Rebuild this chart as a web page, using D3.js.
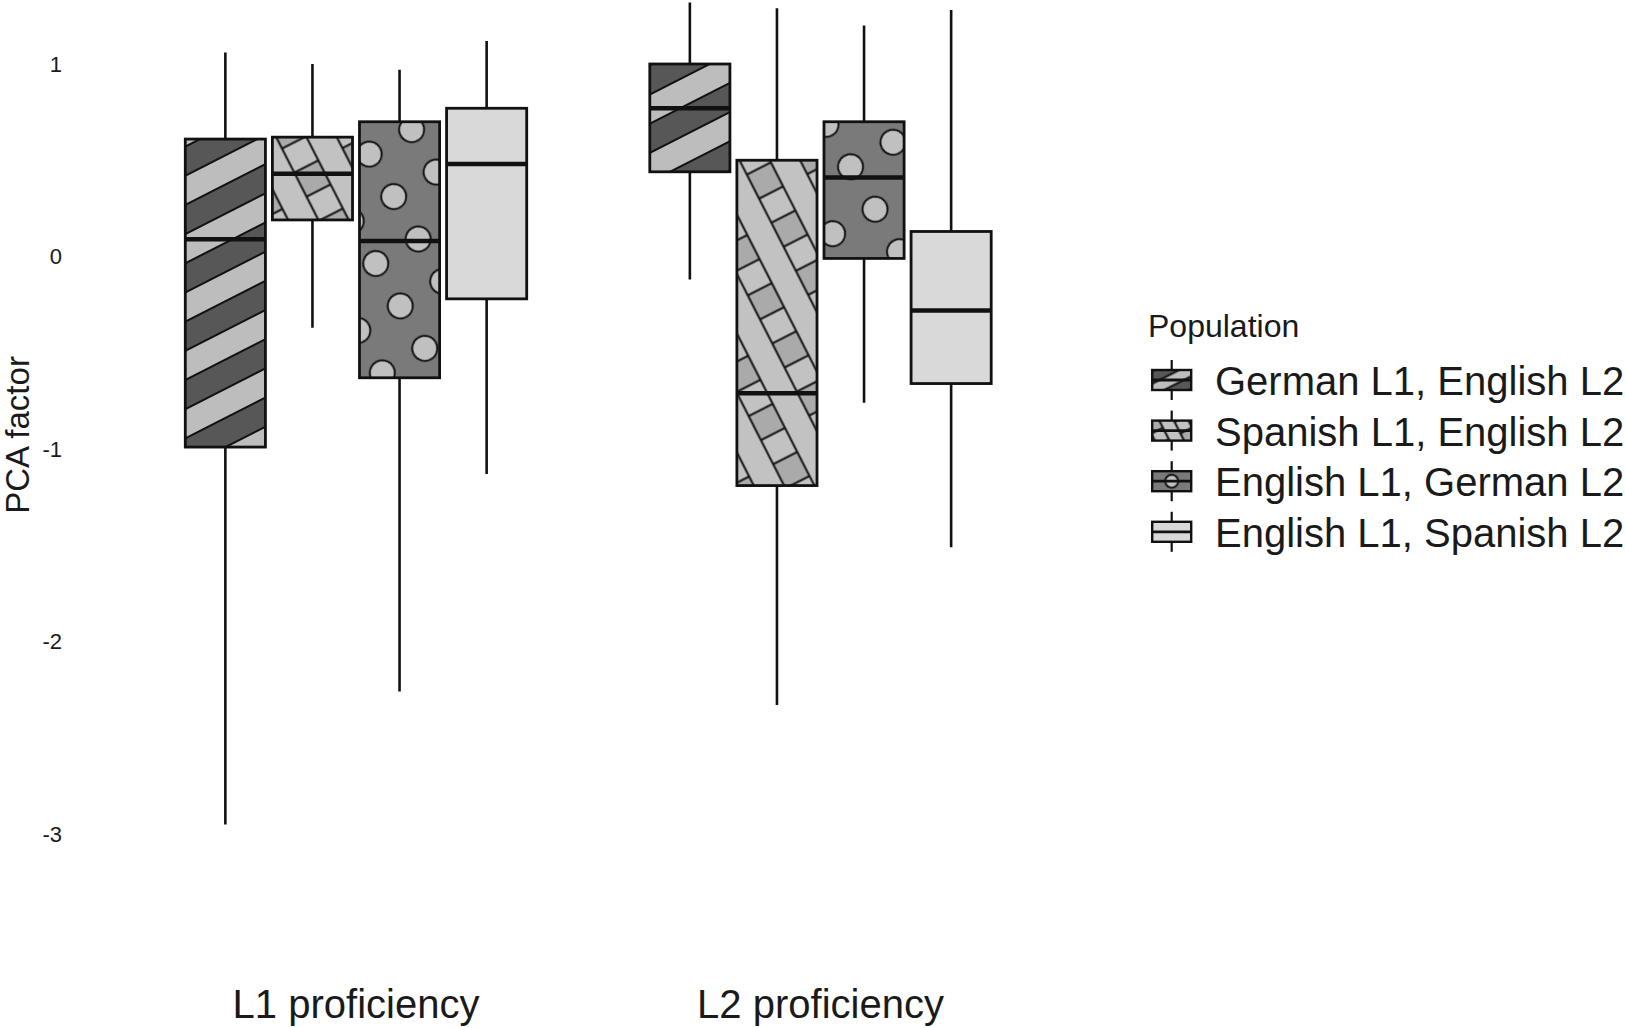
<!DOCTYPE html>
<html>
<head>
<meta charset="utf-8">
<script src="https://cdn.jsdelivr.net/npm/d3@7"></script>
<style>
  body { margin: 0; background: #fff; }
  svg { display: block; font-family: "Liberation Sans", Arial, sans-serif; }
</style>
</head>
<body>
<div class="chart"></div>
<script>
const groups = ['L1 proficiency', 'L2 proficiency']
const populations = [
    'German L1, English L2',
    'Spanish L1, English L2',
    'English L1, German L2',
    'English L1, Spanish L2'
]
// one row per group, one value per population
const whiskerLow  = [[-2.95, -0.37, -2.26, -1.13], [-0.12, -2.33, -0.76, -1.51]]
const lowerQuart  = [[-0.99,  0.19, -0.63, -0.22], [ 0.44, -1.19, -0.01, -0.66]]
const medians     = [[ 0.09,  0.43,  0.08,  0.48], [ 0.77, -0.71,  0.41, -0.28]]
const upperQuart  = [[ 0.61,  0.62,  0.70,  0.77], [ 1.00,  0.50,  0.70,  0.13]]
const whiskerHigh = [[ 1.06,  1.00,  0.97,  1.12], [ 1.32,  1.29,  1.20,  1.28]]
const yTicks = [1, 0, -1, -2, -3]

// fill styles per population (pattern look only)
const fills = [
    {kind: 'stripe', bg: '#575757', fg: '#bdbdbd', angle: 27, period: 52, keyPeriod: 22, keyPhase: [0, -0.5]},
    {kind: 'crosshatch', bg: '#aaaaaa', fg: '#c2c2c2', angle: 27, period: 54, keyPeriod: 26, keyPhase: [0.5, 0.5]},
    {kind: 'circle', bg: '#7a7a7a', fg: '#c0c0c0', angle: 30, period: 49, r: 12.5, keyPeriod: 40, keyR: 6.5, keyPhase: [0, 0]},
    {kind: 'plain', bg: '#d9d9d9'}
]
// pattern phase per box [group][population], in periods
const phases = [
    [[0, 0.39], [0, 0], [0.44, 0], [0, 0]],
    [[0, 0], [0, 0.55], [0, 0.45], [0, 0]]
]

function addPattern(defs, id, f, cx, cy, period, r, phase) {
    const w = f.kind === 'stripe' ? 300 : period
    const p = defs.append('pattern')
        .attr('id', id)
        .attr('patternUnits', 'userSpaceOnUse')
        .attr('width', w)
        .attr('height', period)
        .attr('patternTransform',
            `translate(${cx},${cy}) rotate(${-(f.angle || 0)}) translate(${phase[0] * period},${phase[1] * period})`)
    p.append('rect').attr('width', w).attr('height', period).attr('fill', f.bg)

    const line = (x1, y1, x2, y2) => p.append('line')
        .attr('x1', x1).attr('y1', y1).attr('x2', x2).attr('y2', y2)
        .attr('stroke', '#111').attr('stroke-width', 2)

    if (f.kind === 'stripe') {
        p.append('rect').attr('y', period / 4).attr('width', w).attr('height', period / 2).attr('fill', f.fg)
        line(0, period / 4, w, period / 4)
        line(0, period * 3 / 4, w, period * 3 / 4)
    } else if (f.kind === 'crosshatch') {
        p.append('rect').attr('y', period / 4).attr('width', w).attr('height', period / 2).attr('fill', f.fg)
        line(0, period / 4, w, period / 4)
        line(0, period * 3 / 4, w, period * 3 / 4)
        p.append('rect').attr('x', period / 4).attr('width', period / 2).attr('height', period).attr('fill', f.fg)
        line(period / 4, 0, period / 4, period)
        line(period * 3 / 4, 0, period * 3 / 4, period)
    } else if (f.kind === 'circle') {
        [[0, 0], [period, 0], [0, period], [period, period]].forEach(([x, y]) => {
            p.append('circle').attr('cx', x).attr('cy', y).attr('r', r)
                .attr('fill', f.fg).attr('stroke', '#111').attr('stroke-width', 2)
        })
    }
    return `url(#${id})`
}

class BoxPlot {

    constructor() {
        this.fullWidth = 1625
        this.fullHeight = 1028
        this.canvas = {}
        this.defs = {}
        this.x0 = {}
        this.x1 = {}
        this.yScale = {}
    }

    render() {
        this.canvas = this.createCanvas()
        this.createScales()
        this.createAxes()
        this.createBoxes()
        this.createLegend()
    }

    createCanvas() {
        const svg = d3.select('.chart')
            .append('svg')
            .attr('width', this.fullWidth)
            .attr('height', this.fullHeight)
        svg.append('rect')
            .attr('width', this.fullWidth)
            .attr('height', this.fullHeight)
            .attr('fill', '#fff')
        this.defs = svg.append('defs')
        return svg
    }

    createScales() {
        this.x0 = d3.scaleBand()
            .domain(groups)
            .range([123.75, 1052.75])
            .paddingInner(0.25)
            .paddingOuter(0.125)
        this.x1 = d3.scaleBand()
            .domain(populations)
            .range([0, this.x0.bandwidth()])
            .paddingInner(0.08)
            .paddingOuter(0.04)
        this.yScale = d3.scaleLinear()
            .domain([-3, 1])
            .range([834, 64])
    }

    createAxes() {
        const yAxis = d3.axisLeft(this.yScale)
            .tickValues(yTicks)
            .tickFormat(d => String(d))
            .tickSize(0)
            .tickPadding(8)
        const gy = this.canvas.append('g')
            .attr('transform', 'translate(70, 0)')
            .call(yAxis)
        gy.select('.domain').remove()
        gy.selectAll('text')
            .attr('font-size', 22)
            .attr('font-family', '"Liberation Sans", Arial, sans-serif')
            .attr('fill', '#1a1a1a')

        const xAxis = d3.axisBottom(this.x0).tickSize(0).tickPadding(0)
        const gx = this.canvas.append('g')
            .attr('transform', 'translate(0, 1018)')
            .call(xAxis)
        gx.select('.domain').remove()
        gx.selectAll('text')
            .attr('dy', 0)
            .attr('font-size', 40)
            .attr('font-family', '"Liberation Sans", Arial, sans-serif')
            .attr('fill', '#1a1a1a')

        this.canvas.append('text')
            .attr('transform', 'translate(29, 435) rotate(-90)')
            .attr('text-anchor', 'middle')
            .attr('font-size', 33)
            .attr('fill', '#1a1a1a')
            .text('PCA factor')
    }

    createBoxes() {
        const y = this.yScale
        const bw = this.x1.bandwidth()
        groups.forEach((g, gi) => {
            populations.forEach((p, pi) => {
                const x = this.x0(g) + this.x1(p)
                const cx = x + bw / 2
                const top = y(upperQuart[gi][pi])
                const bottom = y(lowerQuart[gi][pi])
                const f = fills[pi]
                const box = this.canvas.append('g')

                box.append('line')
                    .attr('x1', cx).attr('x2', cx)
                    .attr('y1', y(whiskerHigh[gi][pi])).attr('y2', y(whiskerLow[gi][pi]))
                    .attr('stroke', '#111').attr('stroke-width', 2.6)

                const fill = f.kind === 'plain' ? f.bg
                    : addPattern(this.defs, `pat-${gi}-${pi}`, f, cx, (top + bottom) / 2,
                        f.period, f.r, phases[gi][pi])
                box.append('rect')
                    .attr('x', x).attr('y', top)
                    .attr('width', bw).attr('height', bottom - top)
                    .attr('fill', fill)
                    .attr('stroke', '#111').attr('stroke-width', 2.8)

                box.append('line')
                    .attr('x1', x).attr('x2', x + bw)
                    .attr('y1', y(medians[gi][pi])).attr('y2', y(medians[gi][pi]))
                    .attr('stroke', '#111').attr('stroke-width', 4.5)
            })
        })
    }

    createLegend() {
        const legend = this.canvas.append('g')
        legend.append('text')
            .attr('x', 1148).attr('y', 337)
            .attr('font-size', 32)
            .attr('fill', '#1a1a1a')
            .text('Population')

        populations.forEach((p, i) => {
            const base = 395 + i * 50.6
            const cy = base - 15
            const cx = 1171.7
            const f = fills[i]
            legend.append('line')
                .attr('x1', cx).attr('x2', cx)
                .attr('y1', cy - 20).attr('y2', cy + 20)
                .attr('stroke', '#111').attr('stroke-width', 2.2)
            const fill = f.kind === 'plain' ? f.bg
                : addPattern(this.defs, `key-${i}`, f, cx, cy, f.keyPeriod, f.keyR, f.keyPhase)
            legend.append('rect')
                .attr('x', cx - 19.5).attr('y', cy - 10)
                .attr('width', 39).attr('height', 20)
                .attr('fill', fill)
                .attr('stroke', '#111').attr('stroke-width', 2.4)
            legend.append('line')
                .attr('x1', cx - 19.5).attr('x2', cx + 19.5)
                .attr('y1', cy).attr('y2', cy)
                .attr('stroke', '#111').attr('stroke-width', 2.8)
            legend.append('text')
                .attr('x', 1215).attr('y', base)
                .attr('font-size', 40)
                .attr('fill', '#1a1a1a')
                .text(p)
        })
    }

}

new BoxPlot().render()
</script>
</body>
</html>
